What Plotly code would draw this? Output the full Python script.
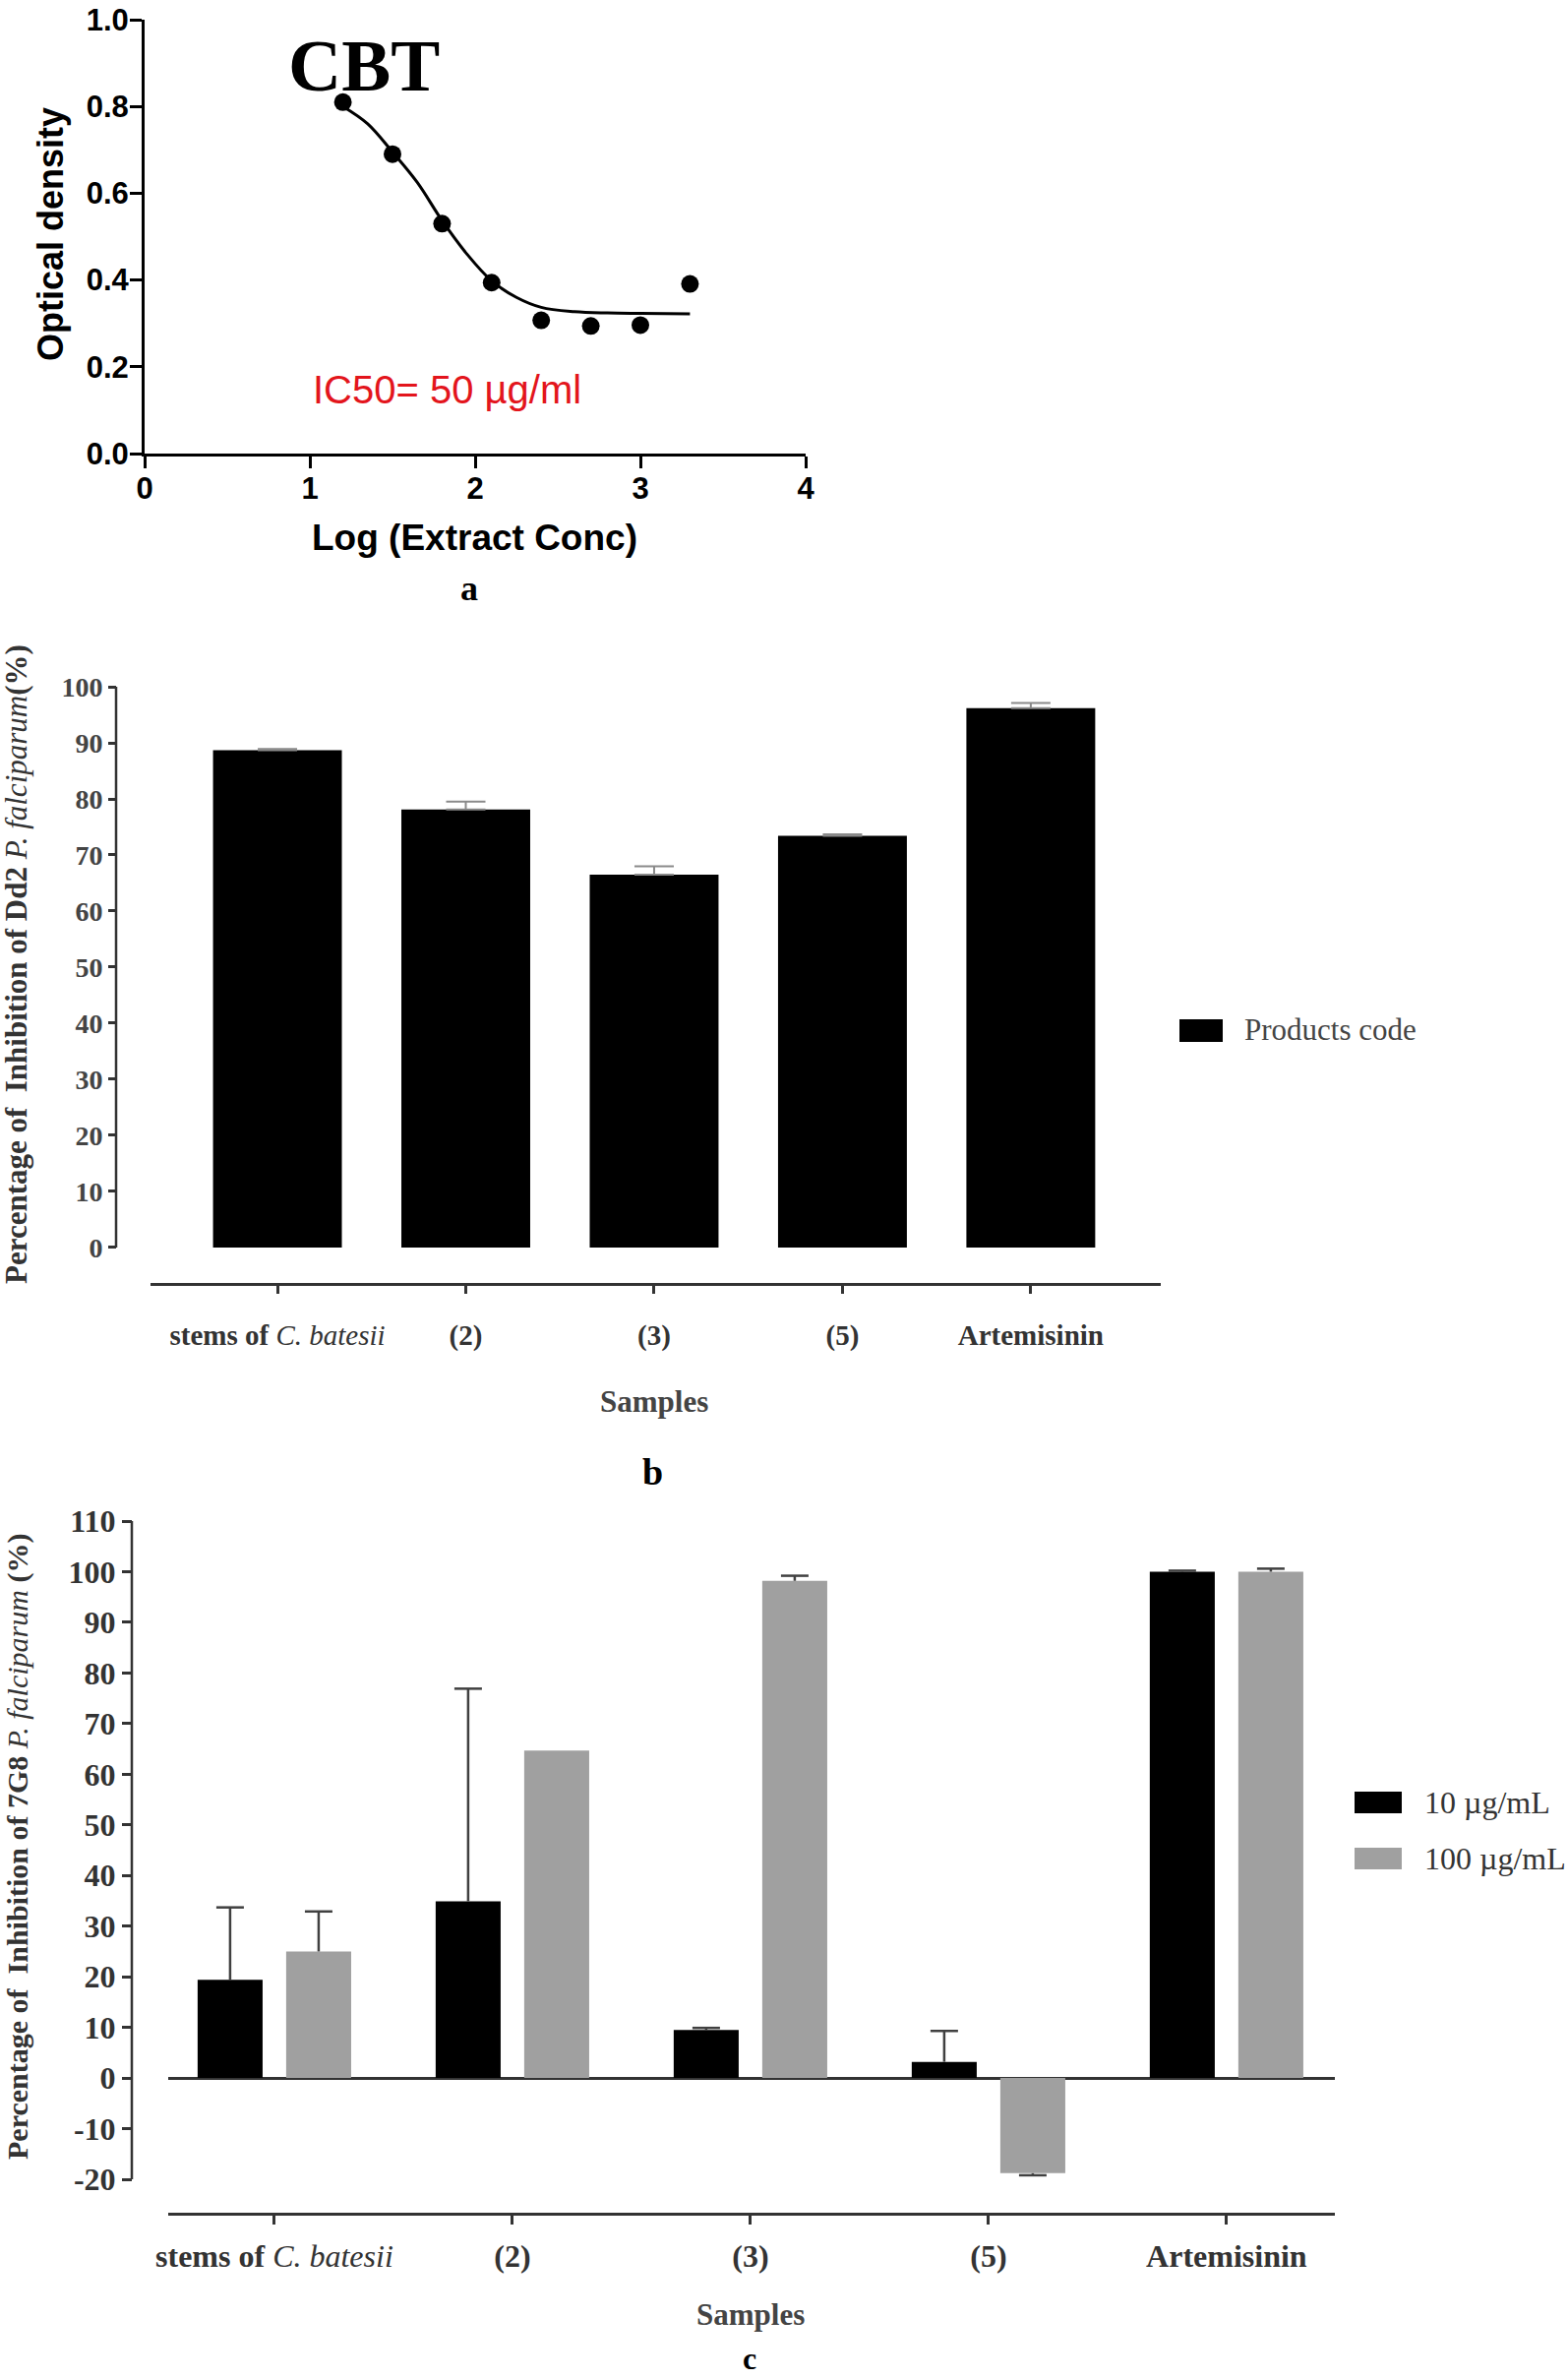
import plotly.graph_objects as go

# ---------------- data ----------------
# panel a: dose-response (CBT)
log_conc = [1.2, 1.5, 1.8, 2.1, 2.4, 2.7, 3.0, 3.3]
optical_density = [0.81, 0.69, 0.53, 0.394, 0.307, 0.294, 0.296, 0.391]
fit_log_conc = [1.2, 1.35, 1.5, 1.65, 1.8, 1.95, 2.1, 2.25, 2.4, 2.6, 2.8, 3.0, 3.3]
fit_density = [0.80, 0.76, 0.695, 0.625, 0.537, 0.46, 0.398, 0.36, 0.337, 0.327, 0.324, 0.323, 0.322]

# panel b: Dd2 inhibition
samples = ["stems of C. batesii", "(2)", "(3)", "(5)", "Artemisinin"]
sample_ticktext = ["<b>stems of</b> <i>C. batesii</i>", "<b>(2)</b>", "<b>(3)</b>", "<b>(5)</b>", "<b>Artemisinin</b>"]
dd2_inhibition = [88.7, 78.1, 66.5, 73.4, 96.2]
dd2_error = [0.2, 1.4, 1.5, 0.3, 0.9]

# panel c: 7G8 inhibition
g7_10 = [19.4, 34.9, 9.5, 3.2, 100.0]
g7_10_err = [14.3, 42.0, 0.4, 6.1, 0.2]
g7_100 = [25.0, 64.7, 98.2, -18.8, 100.0]
g7_100_err = [7.9, 0.0, 1.0, 0.4, 0.6]

a_xticks = [0, 1, 2, 3, 4]
a_yticks = [0, 0.2, 0.4, 0.6, 0.8, 1.0]
b_yticks = list(range(0, 101, 10))
c_yticks = list(range(-20, 111, 10))
c_yticktext = [str(v) for v in c_yticks]

# ---------------- helpers ----------------
W, H = 1594, 2418
def fx(p):
    return p / W
def fy(p):
    return 1 - p / H

SERIF = "Liberation Serif"
SANS = "Liberation Sans"
GRAY = "#a0a0a0"
DARK = "#333333"

fig = go.Figure()

# ---- panel a ----
fig.add_trace(go.Scatter(x=fit_log_conc, y=fit_density, mode="lines",
                         line=dict(color="black", width=3, shape="spline"),
                         xaxis="x", yaxis="y", showlegend=False, hoverinfo="skip"))
fig.add_trace(go.Scatter(x=log_conc, y=optical_density, mode="markers",
                         marker=dict(color="black", size=18),
                         xaxis="x", yaxis="y", showlegend=False, name="CBT"))

# ---- panel b ----
idx = list(range(len(samples)))
fig.add_trace(go.Bar(x=idx, y=dd2_inhibition, width=0.684, name="Products code",
                     marker=dict(color="black", line=dict(width=0)),
                     error_y=dict(type="data", symmetric=False, array=dd2_error,
                                  arrayminus=[0] * len(dd2_error),
                                  color="#8a8a8a", thickness=2, width=20),
                     xaxis="x2", yaxis="y2", showlegend=False))

# ---- panel c ----
off = 0.186
bw = 0.273
x_black = [i - off for i in idx]
x_gray = [i + off for i in idx]
fig.add_trace(go.Bar(x=x_black, y=g7_10, width=bw, name="10 µg/mL",
                     marker=dict(color="black", line=dict(width=0)),
                     xaxis="x3", yaxis="y3", showlegend=False))
fig.add_trace(go.Bar(x=x_gray, y=g7_100, width=bw, name="100 µg/mL",
                     marker=dict(color=GRAY, line=dict(width=0)),
                     xaxis="x3", yaxis="y3", showlegend=False))

cap = 14 / 242.0
ex, ey = [], []
for xs, vals, errs in ((x_black, g7_10, g7_10_err), (x_gray, g7_100, g7_100_err)):
    for x, v, e in zip(xs, vals, errs):
        if e <= 0:
            continue
        sgn = 1 if v >= 0 else -1
        top = v + sgn * e
        ex += [x, x, None, x - cap, x + cap, None]
        ey += [v, top, None, top, top, None]
fig.add_trace(go.Scatter(x=ex, y=ey, mode="lines", line=dict(color="#404040", width=2.5),
                         xaxis="x3", yaxis="y3", showlegend=False, hoverinfo="skip"))

# ---------------- axes ----------------
a_font = dict(family=SANS, size=31, color="black", weight="bold")
fig.update_layout(
    width=W, height=H, margin=dict(l=0, r=0, t=0, b=0, autoexpand=False),
    paper_bgcolor="white", plot_bgcolor="white", barmode="overlay",
    xaxis=dict(domain=[fx(147), fx(819)], range=[0, 4], anchor="y", automargin=False,
               tickvals=a_xticks, showline=True, linewidth=3, linecolor="black",
               ticks="outside", ticklen=12, tickwidth=3, tickcolor="black",
               tickfont=a_font, showgrid=False, zeroline=False, ticklabelstandoff=-6,
               ticklabeloverflow="allow"),
    yaxis=dict(domain=[fy(461), fy(20)], range=[0, 1], anchor="x", automargin=False,
               tickvals=a_yticks, tickformat=".1f",
               showline=True, linewidth=3, linecolor="black",
               ticks="outside", ticklen=12, tickwidth=3, tickcolor="black",
               tickfont=a_font, showgrid=False, zeroline=False, ticklabelstandoff=-5,
               ticklabeloverflow="allow"),
    xaxis2=dict(domain=[fx(153), fx(1180)], range=[-0.674, 4.69], anchor="y2", automargin=False,
                tickvals=idx, ticktext=sample_ticktext,
                showline=True, linewidth=2.5, linecolor=DARK,
                ticks="outside", ticklen=8, tickwidth=2.5, tickcolor=DARK,
                tickfont=dict(family=SERIF, size=29, color=DARK),
                showgrid=False, zeroline=False, ticklabelstandoff=17, ticklabeloverflow="allow"),
    yaxis2=dict(domain=[fy(1304), fy(698)], range=[-6.32, 100], anchor="free", automargin=False,
                position=fx(118), tickvals=b_yticks, showline=False,
                ticks="outside", ticklen=8, tickwidth=2.5, tickcolor=DARK,
                tickfont=dict(family=SERIF, size=28, color="#444444", weight="bold"),
                showgrid=False, zeroline=False, ticklabeloverflow="allow"),
    xaxis3=dict(domain=[fx(171), fx(1357)], range=[-0.446, 4.455], anchor="y3", automargin=False,
                tickvals=idx, ticktext=sample_ticktext,
                showline=True, linewidth=2.5, linecolor=DARK,
                ticks="outside", ticklen=9, tickwidth=2.5, tickcolor=DARK,
                tickfont=dict(family=SERIF, size=32, color=DARK),
                showgrid=False, zeroline=False, ticklabelstandoff=5, ticklabeloverflow="allow"),
    yaxis3=dict(domain=[fy(2249), fy(1546)], range=[-26.6, 110], anchor="free", automargin=False,
                position=fx(134), tickvals=c_yticks, ticktext=c_yticktext, showline=False,
                ticks="outside", ticklen=10, tickwidth=2.5, tickcolor=DARK,
                tickfont=dict(family=SERIF, size=32, color="#333333", weight="bold"),
                showgrid=False, zeroline=True, zerolinecolor=DARK, zerolinewidth=2.5,
                ticklabeloverflow="allow"),
)

shapes = [
    dict(type="line", xref="paper", yref="y2", x0=fx(118), x1=fx(118), y0=0, y1=100,
         line=dict(color=DARK, width=2.5)),
    dict(type="line", xref="paper", yref="y3", x0=fx(134), x1=fx(134), y0=-20, y1=110,
         line=dict(color=DARK, width=2.5)),
    # legend swatches
    dict(type="rect", xref="paper", yref="paper", x0=fx(1199), x1=fx(1243), y0=fy(1059), y1=fy(1036),
         fillcolor="black", line=dict(width=0)),
    dict(type="rect", xref="paper", yref="paper", x0=fx(1377), x1=fx(1425), y0=fy(1843), y1=fy(1821),
         fillcolor="black", line=dict(width=0)),
    dict(type="rect", xref="paper", yref="paper", x0=fx(1377), x1=fx(1425), y0=fy(1900), y1=fy(1878),
         fillcolor=GRAY, line=dict(width=0)),
]
fig.update_layout(shapes=shapes)

def ann(text, x, y, size, family=SERIF, color="black", angle=0, xanchor="center",
        xref="paper", yref="paper", yanchor="middle"):
    return dict(text=text, x=x, y=y, xref=xref, yref=yref, showarrow=False,
                xanchor=xanchor, yanchor=yanchor, textangle=angle,
                font=dict(family=family, size=size, color=color))

annotations = [
    ann("<b>CBT</b>", 1.327, 0.895, 75, xref="x", yref="y"),
    ann("IC50= 50 µg/ml", 1.833, 0.148, 40, family=SANS, color="#e3151c", xref="x", yref="y"),
    ann("<b>Optical density</b>", fx(51), fy(238), 36, family=SANS, angle=-90),
    ann("<b>Log (Extract Conc)</b>", fx(482), fy(546), 37, family=SANS),
    ann("<b>a</b>", fx(477), fy(598), 36),
    ann("<b>Percentage of  Inhibition of Dd2</b> <i>P. falciparum</i><b>(%)</b>", fx(16), fy(980), 31,
        color=DARK, angle=-90),
    ann("<b>Samples</b>", fx(665), fy(1424), 31, color="#444444"),
    ann("<b>b</b>", fx(663), fy(1496), 38),
    ann("Products code", fx(1263), fy(1047), 31, color="#444444", xanchor="left"),
    ann("<b>Percentage of  Inhibition of 7G8</b> <i>P. falciparum</i><b> (%)</b>", fx(18), fy(1877), 30,
        color=DARK, angle=-90),
    ann("<b>Samples</b>", fx(763), fy(2352), 31, color="#444444"),
    ann("<b>c</b>", fx(762), fy(2417), 32, yanchor="bottom"),
    ann("10 µg/mL", fx(1446), fy(1832), 32, color="#333333", xanchor="left"),
    ann("100 µg/mL", fx(1446), fy(1889), 32, color="#333333", xanchor="left"),
]
fig.update_layout(annotations=annotations)

fig.write_html("out.html", config={"displayModeBar": False},
               post_script="document.body.style.margin='0';")
